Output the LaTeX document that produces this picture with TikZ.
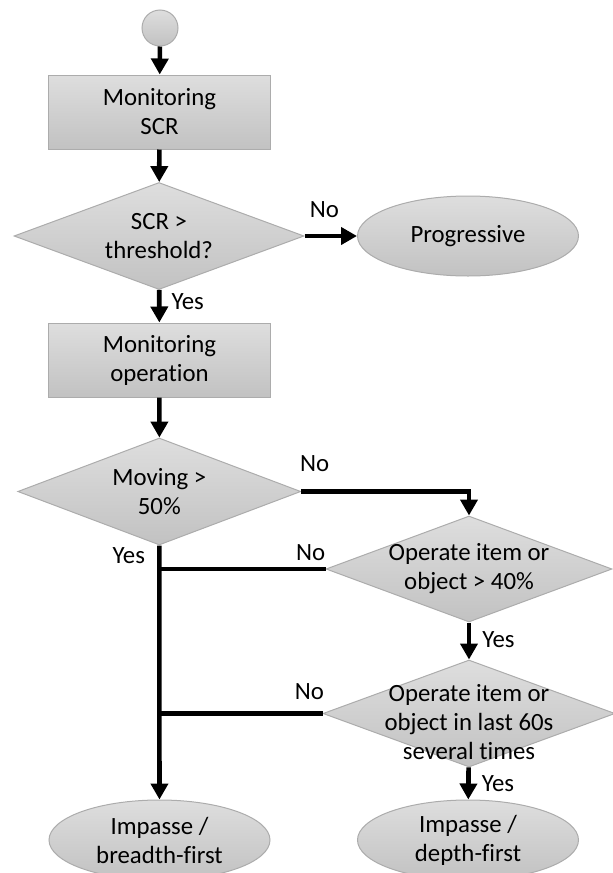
\documentclass[tikz,border=0pt]{standalone}
\usepackage{fontspec}
\setmainfont{Carlito}[Ligatures=CommonOff]
\usetikzlibrary{arrows.meta, calc, positioning, shapes.geometric}
\tikzset{
  shade/.style={draw=gray!65, line width=0.5pt, top color=gray!26, bottom color=gray!48},
  startnode/.style={shade, circle, minimum size=18pt, inner sep=0pt},
  proc/.style={shade, align=center, minimum width=111pt, minimum height=37pt,
               inner sep=2pt},
  decision/.style={shade, diamond, inner sep=0pt},
  terminal/.style={shade, ellipse, align=center, minimum width=110.5pt,
                   minimum height=40pt, inner sep=0pt},
  flow/.style={line width=2.3pt, -{Triangle[length=8pt, width=8.5pt]}},
  branch/.style={line width=2.3pt},
  lbl/.style={inner sep=1pt},
  every label/.style={align=center},
}

\begin{document}
\begin{tikzpicture}[x=0.5pt, y=-0.5pt,
    font=\fontsize{12.4}{14.5}\selectfont]
  \useasboundingbox (0,0) rectangle (613,873);
  \clip (0,0) rectangle (613,873);
  % ================= main column =================
  \node[startnode] (start) at (160,28) {};
  \node[proc] (monscr) at (159.5,112) {Monitoring\\SCR};
  \node[decision, minimum width=145pt, minimum height=53.5pt,
        label={center:SCR >\\threshold?}] (thresh) at (159,236) {};
  \node[terminal] (progr) at (468,236) {Progressive};
  \node[proc] (monop) at (159.5,360) {Monitoring\\operation};
  \node[decision, minimum width=141.5pt, minimum height=53.5pt,
        label={center:Moving >\\50\%}] (moving) at (159.3,491.5) {};
  % ================= right column =================
  \node[decision, minimum width=143pt, minimum height=53pt,
        label={center:Operate item or\\object > 40\%}] (oper) at (469,569) {};
  \node[decision, minimum width=146pt, minimum height=53.5pt,
        label={[yshift=-4.5pt]center:Operate item or\\object in last 60s\\several times}]
        (recent) at (469,713.5) {};
  % ================= end states =================
  \node[terminal] (breadth) at (159.5,840) {Impasse /\\breadth-first};
  \node[terminal] (depth) at (468,840) {Impasse /\\depth-first};
  \coordinate (j1) at (oper.west -| moving.south);
  \coordinate (j2) at (recent.west -| moving.south);

  % connectors
  \draw[flow] (start) -- (monscr);
  \draw[flow] (monscr) -- (thresh);
  \draw[flow] (thresh.east) -- (progr)
    node[lbl, pos=0.38, above=7pt] {No};
  \draw[flow] (thresh) -- (monop)
    node[lbl, pos=0.35, right=4pt] {Yes};
  \draw[flow] (monop) -- (moving);
  \draw[flow] (moving.east) -| (oper.north)
    node[lbl, pos=0.04, above=8pt] {No};
  \draw[flow] (moving.south) -- (breadth)
    node[lbl, pos=0.04, left=5pt] {Yes};
  \draw[branch] (oper.west) -- (j1)
    node[lbl, pos=0.09, above=2pt] {No};
  \draw[flow] (oper) -- (recent)
    node[lbl, pos=0.47, right=4.5pt] {Yes};
  \draw[branch] (recent.west) -- (j2)
    node[lbl, pos=0.08, above=5pt] {No};
  \draw[flow] (recent) -- (depth)
    node[lbl, pos=0.5, right=4.5pt] {Yes};
\end{tikzpicture}
\end{document}
